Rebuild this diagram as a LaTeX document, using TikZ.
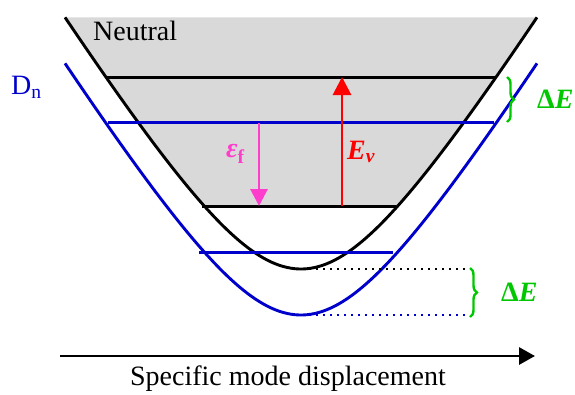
\documentclass[tikz,border=0pt]{standalone}
\usepackage{fontspec}
\setmainfont{Liberation Serif}
\usetikzlibrary{decorations.pathreplacing,arrows.meta}
\definecolor{cblue}{HTML}{0000CC}
\definecolor{cred}{HTML}{FF0000}
\definecolor{cpink}{HTML}{FF3DCC}
\definecolor{cgreen}{HTML}{00C800}
\definecolor{cgray}{HTML}{D9D9D9}
\tikzset{
  curve/.style={line width=2.9pt},
  level/.style={line width=3pt},
  dotline/.style={line width=2.6pt, dash pattern=on 2.4pt off 4.6pt},
  gbrace/.style={cgreen, line width=2.4pt, decorate, decoration={brace, amplitude=7pt}},
  lbl/.style={inner sep=0pt, font=\fontsize{28}{31}\selectfont},
}
\begin{document}
\begin{tikzpicture}[x=1pt,y=-1pt]
\useasboundingbox (0,0) rectangle (575,394);
% gray fill inside neutral curve
\begin{scope}
  \clip plot[domain=-236:236, samples=120] ({301+\x},{269-161*(sqrt(1+(\x/100)^2)-1)}) -- cycle;
  \fill[cgray] (60,15) rectangle (540,206);
\end{scope}
% neutral curve
\draw[curve] plot[domain=-236:236, samples=120] ({301+\x},{269-161*(sqrt(1+(\x/100)^2)-1)});
% Dn curve
\draw[curve, cblue] plot[domain=-236:236, samples=120] ({301+\x},{315-161*(sqrt(1+(\x/100)^2)-1)});
% levels
\coordinate (n1l) at (106,77);  \coordinate (n1r) at (496,77);
\coordinate (n0l) at (202,206); \coordinate (n0r) at (396,206);
\coordinate (d1l) at (108,122); \coordinate (d1r) at (494,122);
\coordinate (d0l) at (199,252); \coordinate (d0r) at (393,252);
\draw[level] (n1l) -- (n1r);
\draw[level] (n0l) -- (n0r);
\draw[level, cblue] (d1l) -- (d1r);
\draw[level, cblue] (d0l) -- (d0r);
% dotted minima
\coordinate (nmin) at (302,269); \coordinate (nend) at (465,269);
\coordinate (dmin) at (302,315); \coordinate (dend) at (465,315);
\draw[dotline] (nmin) -- (nend);
\draw[dotline, cblue] (dmin) -- (dend);
% arrows
\coordinate (ev0) at (342,206); \coordinate (ev1) at (342,77);
\draw[cred, line width=2.9pt, -{Triangle[length=18pt,width=18pt]}] (ev0) -- (ev1);
\coordinate (ef0) at (259,123); \coordinate (ef1) at (259,206);
\draw[cpink, line width=2.9pt, -{Triangle[length=17pt,width=17pt]}] (ef0) -- (ef1);
% braces
\coordinate (b1t) at (507,77); \coordinate (b1b) at (507,122);
\draw[gbrace] (b1t) -- (b1b);
\coordinate (b2t) at (470,268); \coordinate (b2b) at (470,317);
\draw[gbrace] (b2t) -- (b2b);
% axis
\coordinate (ax0) at (60,356); \coordinate (ax1) at (535,356);
\draw[line width=2.9pt, -{Triangle[length=16pt,width=17pt]}] (ax0) -- (ax1);
% labels
\node[lbl, anchor=west] (neutral) at (93,31) {Neutral};
\node[lbl, cblue, anchor=west] (dn) at (11,87) {D\textsubscript{n}};
\node[lbl, cgreen, anchor=west] (de1) at (537,99) {\textbf{Δ\textit{E}}};
\node[lbl, cgreen, anchor=west] (de2) at (501,292) {\textbf{Δ\textit{E}}};
\node[lbl, cred, anchor=west] (ev) at (347,152) {\textbf{\textit{E\textsubscript{v}}}};
\node[lbl, cpink, anchor=west] (ef) at (226,154) {\textbf{\textit{ε}\textsubscript{f}}};
\node[lbl, anchor=center] (axis) at (288,379) {Specific mode displacement};
\end{tikzpicture}
\end{document}
